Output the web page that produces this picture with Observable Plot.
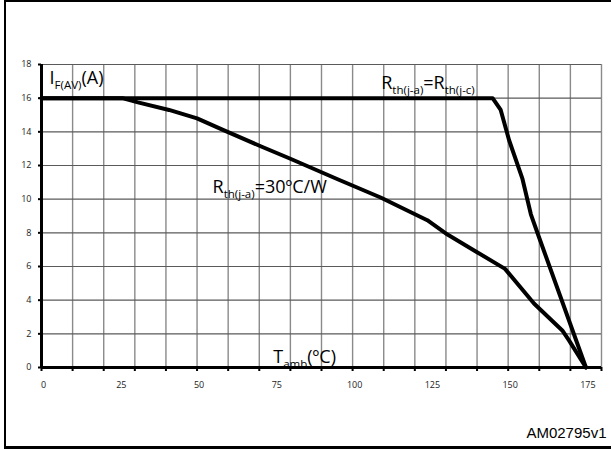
<!DOCTYPE html>
<html>
<head>
<meta charset="utf-8">
<script src="https://cdn.jsdelivr.net/npm/d3@7"></script>
<script src="https://cdn.jsdelivr.net/npm/@observablehq/plot@0.6"></script>
<style>
  html, body { margin: 0; padding: 0; background: #fff; }
  #wrap { position: relative; width: 611px; height: 449px; overflow: hidden; }
  #frame { position: absolute; left: 4px; top: 0; width: 607px; height: 449px; box-sizing: border-box;
           border-left: 2px solid #000; border-top: 2px solid #000; border-bottom: 3px solid #000; }
  #chart { position: absolute; left: 0; top: 0; }
</style>
</head>
<body>
<div id="wrap"><div id="frame"></div><div id="chart"></div></div>
<script>
// Curve: Rth(j-a) = Rth(j-c)
const t1 = [0, 145, 147.6, 150.3, 154.6, 157.3, 159.6, 175];
const i1 = [16, 16, 15.3, 13.5, 11.2, 9.1, 7.9, 0];
// Curve: Rth(j-a) = 30 ºC/W
const t2 = [0, 26, 31, 41, 50, 58.5, 71, 80, 95, 109, 124, 130.5, 140, 149, 158.3, 167.4, 169.6, 175];
const i2 = [16, 16, 15.75, 15.3, 14.8, 14.1, 13.1, 12.4, 11.2, 10.1, 8.75, 7.9, 6.85, 5.86, 3.8, 2.2, 1.6, 0];

const xTicks = d3.range(0, 181, 10);
const xLabels = [0, 25, 50, 75, 100, 125, 150, 175];
const yTicks = d3.range(0, 19, 2);

const labels = [
  {x: 2.6, y: 16.86, t: "I_{F(AV)}(A)"},
  {x: 109.2, y: 16.56, t: "R_{th(j-a)}=R_{th(j-c)}"},
  {x: 55, y: 10.36, t: "R_{th(j-a)}=30ºC/W"},
  {x: 74.5, y: 0.28, t: "T_{amb}(ºC)"}
];
const code = [{x: 181.6, y: -4.16, t: "AM02795v1"}];

const curve1 = t1.map((t, k) => ({t, i: i1[k]}));
const curve2 = t2.map((t, k) => ({t, i: i2[k]}));

const FONT = "'Open Sans', sans-serif";

const svg = Plot.plot({
  width: 611,
  height: 449,
  marginLeft: 41,
  marginRight: 10,
  marginTop: 64,
  marginBottom: 82,
  style: {fontFamily: FONT, fontSize: "9px", background: "transparent", overflow: "visible"},
  x: {domain: [0, 180]},
  y: {domain: [0, 18]},
  marks: [
    Plot.ruleX(xTicks, {stroke: "#8a8a8a", strokeWidth: 1.4}),
    Plot.ruleY(yTicks, {stroke: "#5a5a5a", strokeWidth: 1.2}),
    Plot.ruleX([0], {stroke: "#000", strokeWidth: 3}),
    Plot.ruleY([0], {stroke: "#000", strokeWidth: 3}),
    Plot.axisX({ticks: xTicks, tickSize: 4, tickFormat: () => "", strokeWidth: 2, stroke: "#000"}),
    Plot.axisX({ticks: xLabels, tickSize: 0, tickPadding: 14, dx: 2, fill: "#222", fontSize: 9}),
    Plot.axisY({ticks: yTicks, tickSize: 3, tickPadding: 7, strokeWidth: 2, stroke: "#000", fill: "#222", fontSize: 9}),
    Plot.line(curve1, {x: "t", y: "i", stroke: "#000", strokeWidth: 4, strokeLinejoin: "round"}),
    Plot.line(curve2, {x: "t", y: "i", stroke: "#000", strokeWidth: 4, strokeLinejoin: "round"}),
    Plot.text(labels, {x: "x", y: "y", text: "t", textAnchor: "start", lineAnchor: "bottom", fontSize: 18, fill: "#000"}),
    Plot.text(code, {x: "x", y: "y", text: "t", textAnchor: "end", lineAnchor: "bottom", fontSize: 15, fill: "#000", fontFamily: "'Liberation Sans', Arial, sans-serif"})
  ]
});

// Turn _{...} into real subscripts
const NS = "http://www.w3.org/2000/svg";
svg.querySelectorAll("text").forEach(t => {
  const s = t.textContent;
  if (!s.includes("_{")) return;
  const parts = [];
  const re = /_\{([^}]*)\}/g;
  let last = 0, m;
  while ((m = re.exec(s))) {
    if (m.index > last) parts.push({t: s.slice(last, m.index)});
    parts.push({t: m[1], sub: true});
    last = re.lastIndex;
  }
  if (last < s.length) parts.push({t: s.slice(last)});
  while (t.firstChild) t.removeChild(t.firstChild);
  let shifted = false;
  const shift = 5;
  for (const p of parts) {
    const ts = document.createElementNS(NS, "tspan");
    ts.textContent = p.t;
    if (p.sub) {
      ts.setAttribute("font-size", "11.5");
      if (!shifted) ts.setAttribute("dy", shift);
      shifted = true;
    } else if (shifted) {
      ts.setAttribute("dy", -shift);
      shifted = false;
    }
    t.appendChild(ts);
  }
});

document.getElementById("chart").appendChild(svg);
</script>
</body>
</html>
